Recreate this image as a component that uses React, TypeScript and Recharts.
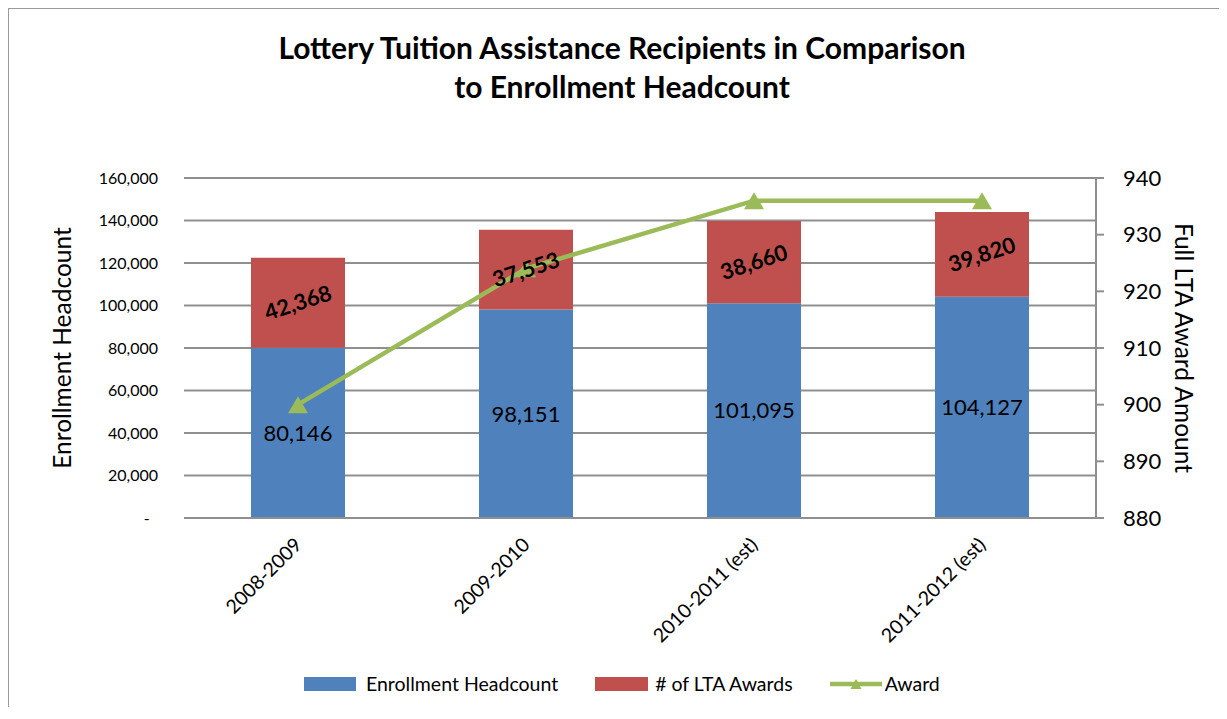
import React from 'react';
import {
  ComposedChart,
  Bar,
  Line,
  XAxis,
  YAxis,
  CartesianGrid,
  Legend,
  LabelList,
} from 'recharts';

const categories = ['2008-2009', '2009-2010', '2010-2011 (est)', '2011-2012 (est)'];
const enrollment = [80146, 98151, 101095, 104127];
const ltaAwards = [42368, 37553, 38660, 39820];
const awardAmount = [900, 924, 936, 936];
const leftTicks = [0, 20000, 40000, 60000, 80000, 100000, 120000, 140000, 160000];
const rightTicks = [880, 890, 900, 910, 920, 930, 940];

const BLUE = '#4F81BD';
const RED = '#C0504D';
const GREEN = '#9BBB59';
const GRID = '#8f8f8f';
const FONT = 'Lato, "Open Sans", sans-serif';

const data = categories.map((name, i) => ({
  name,
  enrollment: enrollment[i],
  awards: ltaAwards[i],
  award: awardAmount[i],
}));

const fmt = (v: number) => (v === 0 ? '-\u00a0\u00a0' : v.toLocaleString('en-US'));

const XTick = ({ x, y, payload }: any) => {
  const ax = x + 5;
  const ay = y + 28;
  return (
    <text
      x={ax}
      y={ay}
      transform={`rotate(-45, ${ax}, ${ay})`}
      textAnchor="end"
      fontSize={19.5}
      fontFamily={FONT}
      fill="#000"
    >
      {payload.value}
    </text>
  );
};

const Triangle = ({ cx, cy, w = 20, h = 17 }: any) => {
  if (cx == null || cy == null) return null;
  return (
    <path
      d={`M${cx},${cy - h / 2} L${cx + w / 2},${cy + h / 2} L${cx - w / 2},${cy + h / 2} Z`}
      fill={GREEN}
    />
  );
};

const LegendContent = () => (
  <div
    style={{
      display: 'flex',
      alignItems: 'center',
      fontFamily: FONT,
      fontSize: 19.5,
      color: '#000',
      whiteSpace: 'nowrap',
    }}
  >
    <span style={{ width: 52, height: 14, background: BLUE, marginRight: 10 }} />
    <span style={{ marginRight: 37 }}>Enrollment Headcount</span>
    <span style={{ width: 53, height: 14, background: RED, marginRight: 7 }} />
    <span style={{ marginRight: 37 }}># of LTA Awards</span>
    <svg width={52} height={16} style={{ marginRight: 3 }}>
      <line x1={0} y1={8} x2={52} y2={8} stroke={GREEN} strokeWidth={4.5} strokeLinecap="round" />
      <Triangle cx={26} cy={8} w={11} h={10} />
    </svg>
    <span>Award</span>
  </div>
);

const leftTitle = (props: any) => {
  const vb = props.viewBox;
  const x = vb.x - 23;
  const y = vb.y + vb.height / 2;
  return (
    <text
      x={x}
      y={y}
      transform={`rotate(-90, ${x}, ${y})`}
      textAnchor="middle"
      dominantBaseline="central"
      fontSize={24.5}
      fontFamily={FONT}
      fill="#000"
    >
      Enrollment Headcount
    </text>
  );
};

const rightTitle = (props: any) => {
  const vb = props.viewBox;
  const x = vb.x + vb.width + 8;
  const y = vb.y + vb.height / 2;
  return (
    <text
      x={x}
      y={y}
      transform={`rotate(90, ${x}, ${y})`}
      textAnchor="middle"
      dominantBaseline="central"
      fontSize={24.5}
      fontFamily={FONT}
      fill="#000"
    >
      Full LTA Award Amount
    </text>
  );
};

export default function App() {
  return (
    <div
      style={{
        position: 'relative',
        margin: '-1px 0 0 -1px',
        width: 1220,
        height: 700,
        borderLeft: '2px solid #9a9a9a',
        borderTop: '2px solid #9a9a9a',
        boxSizing: 'border-box',
        background: '#fff',
      }}
    >
      <div
        style={{
          position: 'absolute',
          left: 8,
          top: 19,
          width: 1210,
          textAlign: 'center',
          fontFamily: FONT,
          fontWeight: 'bold',
          fontSize: 30,
          lineHeight: '39px',
          color: '#000',
        }}
      >
        Lottery Tuition Assistance Recipients in Comparison
        <br />
        to Enrollment Headcount
      </div>
      <div style={{ position: 'absolute', left: 0, top: 0 }}>
        <ComposedChart
          width={1218}
          height={690}
          data={data}
          margin={{ top: 169, left: 75, right: 51, bottom: 81 }}
          barCategoryGap="29%"
        >
          <CartesianGrid yAxisId="left" vertical={false} stroke={GRID} strokeWidth={2} />
          <XAxis
            dataKey="name"
            height={100}
            interval={0}
            tickLine={false}
            tickSize={0}
            tickMargin={0}
            axisLine={{ stroke: GRID, strokeWidth: 2 }}
            tick={<XTick />}
          />
          <YAxis
            yAxisId="left"
            width={100}
            domain={[0, 160000]}
            ticks={leftTicks}
            tickFormatter={fmt}
            axisLine={false}
            tickLine={false}
            tickSize={0}
            tickMargin={26}
            tick={{ fontSize: 16, fontFamily: FONT, fill: '#000' }}
            label={{ content: leftTitle }}
          />
          <YAxis
            yAxisId="right"
            orientation="right"
            width={80}
            domain={[880, 940]}
            ticks={rightTicks}
            axisLine={{ stroke: GRID, strokeWidth: 2 }}
            tickLine={{ stroke: GRID, strokeWidth: 2 }}
            tickSize={8}
            tickMargin={19}
            tick={{ fontSize: 22, fontFamily: FONT, fill: '#000', textAnchor: 'start' }}
            label={{ content: rightTitle }}
          />
          <Legend
            layout="horizontal"
            verticalAlign="middle"
            align="center"
            content={<LegendContent />}
            wrapperStyle={{ left: 295, top: 663, width: 760 }}
          />
          <Bar yAxisId="left" dataKey="enrollment" stackId="a" fill={BLUE} barSize={94} isAnimationActive={false}>
            <LabelList
              dataKey="enrollment"
              position="center"
              formatter={(v: any) => Number(v).toLocaleString('en-US')}
              fontSize={22}
              fontFamily={FONT}
              fill="#000"
            />
          </Bar>
          <Bar yAxisId="left" dataKey="awards" stackId="a" fill={RED} barSize={94} isAnimationActive={false}>
            <LabelList
              dataKey="awards"
              position="center"
              angle={-18}
              formatter={(v: any) => Number(v).toLocaleString('en-US')}
              fontSize={22}
              fontWeight="bold"
              fontFamily={FONT}
              fill="#000"
            />
          </Bar>
          <Line
            yAxisId="right"
            dataKey="award"
            stroke={GREEN}
            strokeWidth={4.5}
            dot={<Triangle />}
            activeDot={false}
            isAnimationActive={false}
          />
        </ComposedChart>
      </div>
    </div>
  );
}
